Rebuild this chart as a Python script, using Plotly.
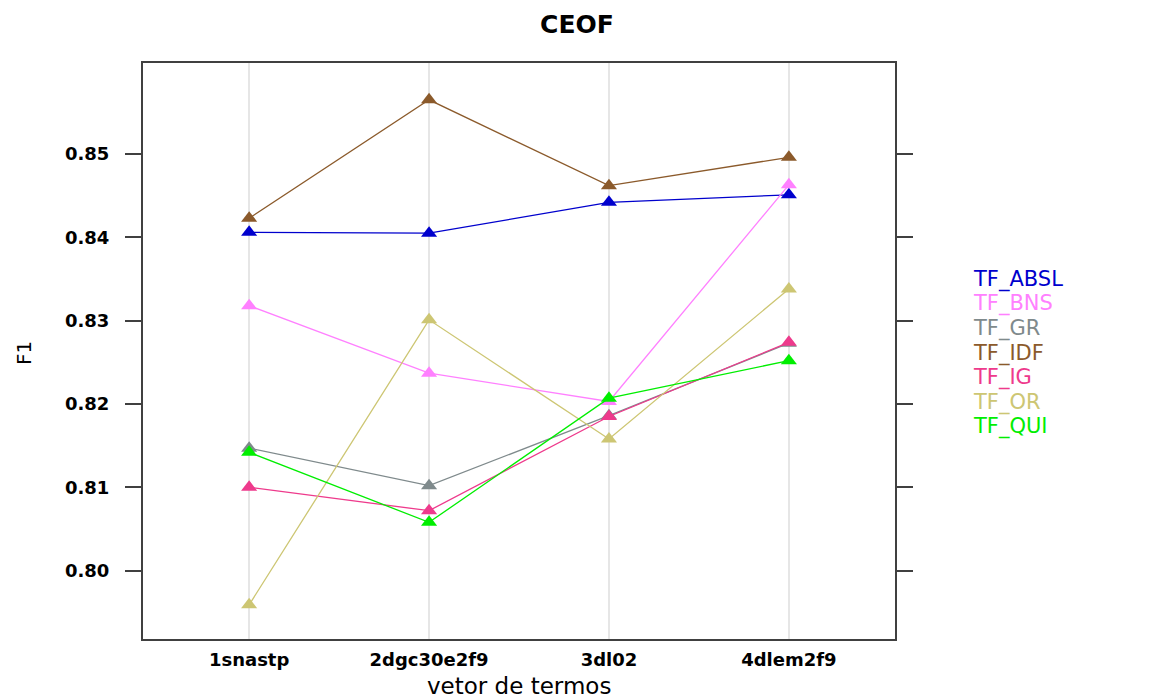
import plotly.graph_objects as go

categories = ["1snastp", "2dgc30e2f9", "3dl02", "4dlem2f9"]
series_names = ["TF_ABSL", "TF_BNS", "TF_GR", "TF_IDF", "TF_IG", "TF_OR", "TF_QUI"]
tf_absl = [0.8406, 0.8405, 0.8442, 0.8451]
tf_bns = [0.8318, 0.8237, 0.8203, 0.8463]
tf_gr = [0.8147, 0.8102, 0.8186, 0.8273]
tf_idf = [0.8423, 0.8565, 0.8462, 0.8496]
tf_ig = [0.8100, 0.8072, 0.8185, 0.8274]
tf_or = [0.7959, 0.8301, 0.8158, 0.8338]
tf_qui = [0.8142, 0.8058, 0.8207, 0.8252]
y_ticks = [0.80, 0.81, 0.82, 0.83, 0.84, 0.85]
y_tick_labels = ["0.80", "0.81", "0.82", "0.83", "0.84", "0.85"]

values = [tf_absl, tf_bns, tf_gr, tf_idf, tf_ig, tf_or, tf_qui]
colors = ["#0000CD", "#FF80FF", "#7F8A8C", "#8B5A2B", "#EE3A8C", "#CDC673", "#00EE00"]

W, H = 1152, 698
L, R, T, B = 143, 895, 63, 639

fig = go.Figure()
for name, vals, col in zip(series_names, values, colors):
    fig.add_trace(go.Scatter(
        x=list(range(len(categories))), y=vals, name=name, mode="lines+markers",
        line=dict(color=col, width=1.3),
        marker=dict(symbol="triangle-up", size=14, color=col, line=dict(width=0)),
        showlegend=False,
    ))

# legend as colored text
legend_y_px = [353 + (i - 3) * 24.6 for i in range(len(series_names))]
for name, col, ypx in zip(series_names, colors, legend_y_px):
    fig.add_annotation(
        x=(971 - L) / (R - L), y=(B - ypx) / (B - T), xref="paper", yref="paper",
        text=name, showarrow=False, xanchor="left", yanchor="middle",
        font=dict(family="DejaVu Sans", size=21, color=col),
    )

# y axis title
fig.add_annotation(
    x=(24 - L) / (R - L), y=(B - 353) / (B - T), xref="paper", yref="paper",
    text="F1", showarrow=False, textangle=-90, xanchor="center", yanchor="middle",
    font=dict(family="DejaVu Sans", size=20, color="black"),
)
# x axis title
fig.add_annotation(
    x=0.5, y=(B - 686) / (B - T), xref="paper", yref="paper",
    text="vetor de termos", showarrow=False, xanchor="center", yanchor="middle",
    font=dict(family="DejaVu Sans", size=23, color="black"),
)

fig.update_layout(
    width=W, height=H,
    margin=dict(l=L, r=W - R, t=T, b=H - B, pad=0),
    plot_bgcolor="white", paper_bgcolor="white",
    title=dict(text="<b>CEOF</b>", x=577 / W, xanchor="center",
               y=1 - 24 / H, yanchor="middle", yref="container",
               font=dict(family="DejaVu Sans", size=25, color="black")),
    font=dict(family="DejaVu Sans", color="black"),
)

fig.update_xaxes(
    range=[-0.59, 3.59], tickmode="array", tickvals=list(range(len(categories))),
    ticktext=categories, showgrid=True, gridcolor="#E6E6E6", gridwidth=1.5,
    showline=True, linecolor="#404040", linewidth=2, mirror=True, ticks="",
    zeroline=False, ticklabelstandoff=3,
    tickfont=dict(family="DejaVu Sans", size=18, color="black", weight="bold"),
)
fig.update_yaxes(
    range=[0.79180, 0.86092], tickmode="array", tickvals=y_ticks, ticktext=y_tick_labels,
    showgrid=False, showline=True, linecolor="#404040", linewidth=2, mirror="ticks",
    ticks="outside", ticklen=16, tickwidth=1.5, tickcolor="#404040", zeroline=False,
    ticklabelstandoff=12,
    tickfont=dict(family="DejaVu Sans", size=18, color="black", weight="bold"),
)

fig.write_html("out.html")
